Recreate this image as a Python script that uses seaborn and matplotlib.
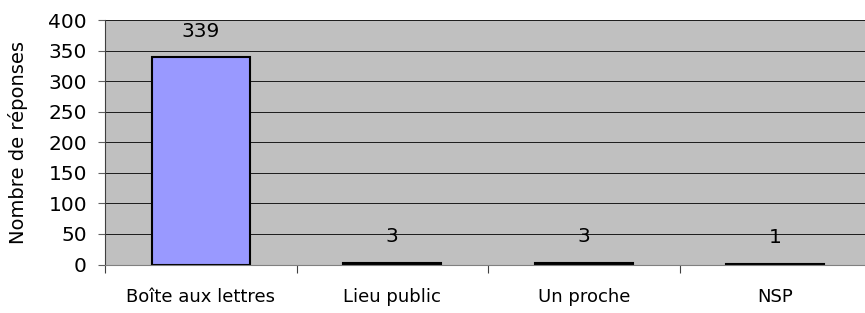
import matplotlib
matplotlib.use("Agg")
import matplotlib.pyplot as plt
import seaborn as sns
import pandas as pd
import numpy as np

categories = ["Boîte aux lettres", "Lieu public", "Un proche", "NSP"]
reponses = [339, 3, 3, 1]
y_ticks = [0, 50, 100, 150, 200, 250, 300, 350, 400]

df = pd.DataFrame({"cat": categories, "n": reponses})

sns.set_style("white")
plt.rcParams["font.family"] = ["DejaVu Sans"]
plt.rcParams["text.color"] = "black"
plt.rcParams["axes.labelcolor"] = "black"
plt.rcParams["xtick.labelcolor"] = "black"
plt.rcParams["ytick.labelcolor"] = "black"

fig = plt.figure(figsize=(8.65, 3.13), dpi=100)
ax = fig.add_axes([105 / 865, 1 - 264.5 / 313, 766 / 865, 244.5 / 313])
ax.set_facecolor("#C0C0C0")

sns.barplot(data=df, x="cat", y="n", color="#9999FF", saturation=1,
            width=0.51, edgecolor="black", linewidth=1.5, ax=ax)

ax.set_ylim(0, 400)
ax.set_xlim(-0.5, 3.5)
ax.set_yticks(y_ticks)
ax.yaxis.grid(True, color="#1a1a1a", linewidth=0.7)
ax.set_axisbelow(True)

for b in ax.containers:
    ax.bar_label(b, padding=12, fontsize=14.5)

ax.set_xlabel("")
ax.set_ylabel("Nombre de réponses", fontsize=14)
ax.yaxis.set_label_coords(-0.1, 0.5)
ax.tick_params(axis="y", labelsize=14.5, length=5, width=0.8, color="#606060",
               left=True, pad=8)
ax.tick_params(axis="x", which="major", labelsize=13, length=0, pad=17)
ax.set_xticks(np.arange(-0.5, 3.6, 1), minor=True)
ax.tick_params(axis="x", which="minor", length=6, width=0.8, color="#404040",
               bottom=True)

for s in ["top", "right"]:
    ax.spines[s].set_visible(False)
ax.spines["left"].set_color("#404040")
ax.spines["bottom"].set_color("#808080")

fig.savefig("out.png", dpi=100)
